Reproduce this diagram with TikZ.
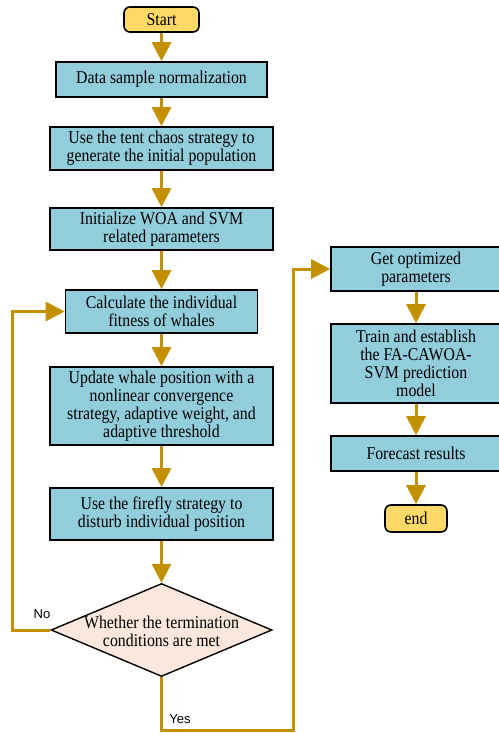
\documentclass[tikz,border=0pt]{standalone}
\usepackage{fontspec}
\setmainfont{Liberation Serif}[FakeStretch=0.88]
\newfontfamily\lblfont{Liberation Sans}
\usetikzlibrary{arrows.meta,shapes.geometric}
\definecolor{gold}{HTML}{C39100}
\definecolor{boxblue}{HTML}{92CDDC}
\definecolor{termy}{HTML}{FFD966}
\definecolor{diafill}{HTML}{FBE7DC}
\tikzset{
  every node/.style={font=\fontsize{18}{18}\selectfont},
  procbox/.style={draw=black, line width=1.6pt, fill=boxblue, align=center, inner sep=1pt},
  termbox/.style={draw=black, line width=1.6pt, fill=termy, rounded corners=6pt, align=center, inner sep=1pt},
  decbox/.style={draw=black, line width=1.4pt, fill=diafill, diamond, inner sep=0pt},
  flow/.style={draw=gold, line width=3pt, -{Triangle[width=19pt,length=19pt]}},
  lbl/.style={font=\lblfont\fontsize{13}{15}\selectfont}
}
\begin{document}
\begin{tikzpicture}[x=1pt,y=-1pt]
\useasboundingbox (0,0) rectangle (498,733);
% left column
\node[termbox, minimum width=75pt, minimum height=25pt] (start) at (161.5,19.5) {Start};
\node[procbox, minimum width=211pt, minimum height=35pt] (n1) at (161.5,79.5) {Data sample normalization};
\node[procbox, minimum width=223pt, minimum height=43pt] (n2) at (161.5,148.5) {Use the tent chaos strategy to\\generate the initial population};
\node[procbox, minimum width=223pt, minimum height=42pt] (n3) at (161.5,229) {Initialize WOA and SVM\\related parameters};
\node[procbox, minimum width=192pt, minimum height=43pt] (n4) at (161.5,311.5) {Calculate the individual\\fitness of whales};
\node[procbox, minimum width=223pt, minimum height=78pt] (n5) at (161.5,406) {Update whale position with a\\nonlinear convergence\\strategy, adaptive weight, and\\adaptive threshold};
\node[procbox, minimum width=223pt, minimum height=52pt] (n6) at (161.5,514) {Use the firefly strategy to\\disturb individual position};
\node[decbox, minimum width=221pt, minimum height=93pt] (d) at (161.5,630) {};
\node[align=center] (dtext) at (161.5,631) {Whether the termination\\conditions are met};
% right column
\node[procbox, minimum width=170pt, minimum height=44pt] (r1) at (416,269) {Get optimized\\parameters};
\node[procbox, minimum width=170pt, minimum height=79pt] (r2) at (416,363.5) {Train and establish\\the FA-CAWOA-\\SVM prediction\\model};
\node[procbox, minimum width=170pt, minimum height=35pt] (r3) at (416,453.5) {Forecast results};
\node[termbox, minimum width=62pt, minimum height=27pt] (end) at (416,518.5) {end};
% connectors
\draw[flow] (start) -- (n1);
\draw[flow] (n1) -- (n2);
\draw[flow] (n2) -- (n3);
\draw[flow] (n3) -- (n4);
\draw[flow] (n4) -- (n5);
\draw[flow] (n5) -- (n6);
\draw[flow] (n6) -- (d);
\coordinate (noL) at (12,630);
\draw[flow] (d.west) -- (noL) |- (n4.west);
\coordinate (yB) at (161.5,730);
\coordinate (yR) at (293,730);
\draw[flow] (d.south) -- (yB) -- (yR) |- (r1.west);
\draw[flow] (r1) -- (r2);
\draw[flow] (r2) -- (r3);
\draw[flow] (r3) -- (end);
% labels
\node[lbl] (nolbl) at (42,614) {No};
\node[lbl] (yeslbl) at (180,719) {Yes};
\end{tikzpicture}
\end{document}
